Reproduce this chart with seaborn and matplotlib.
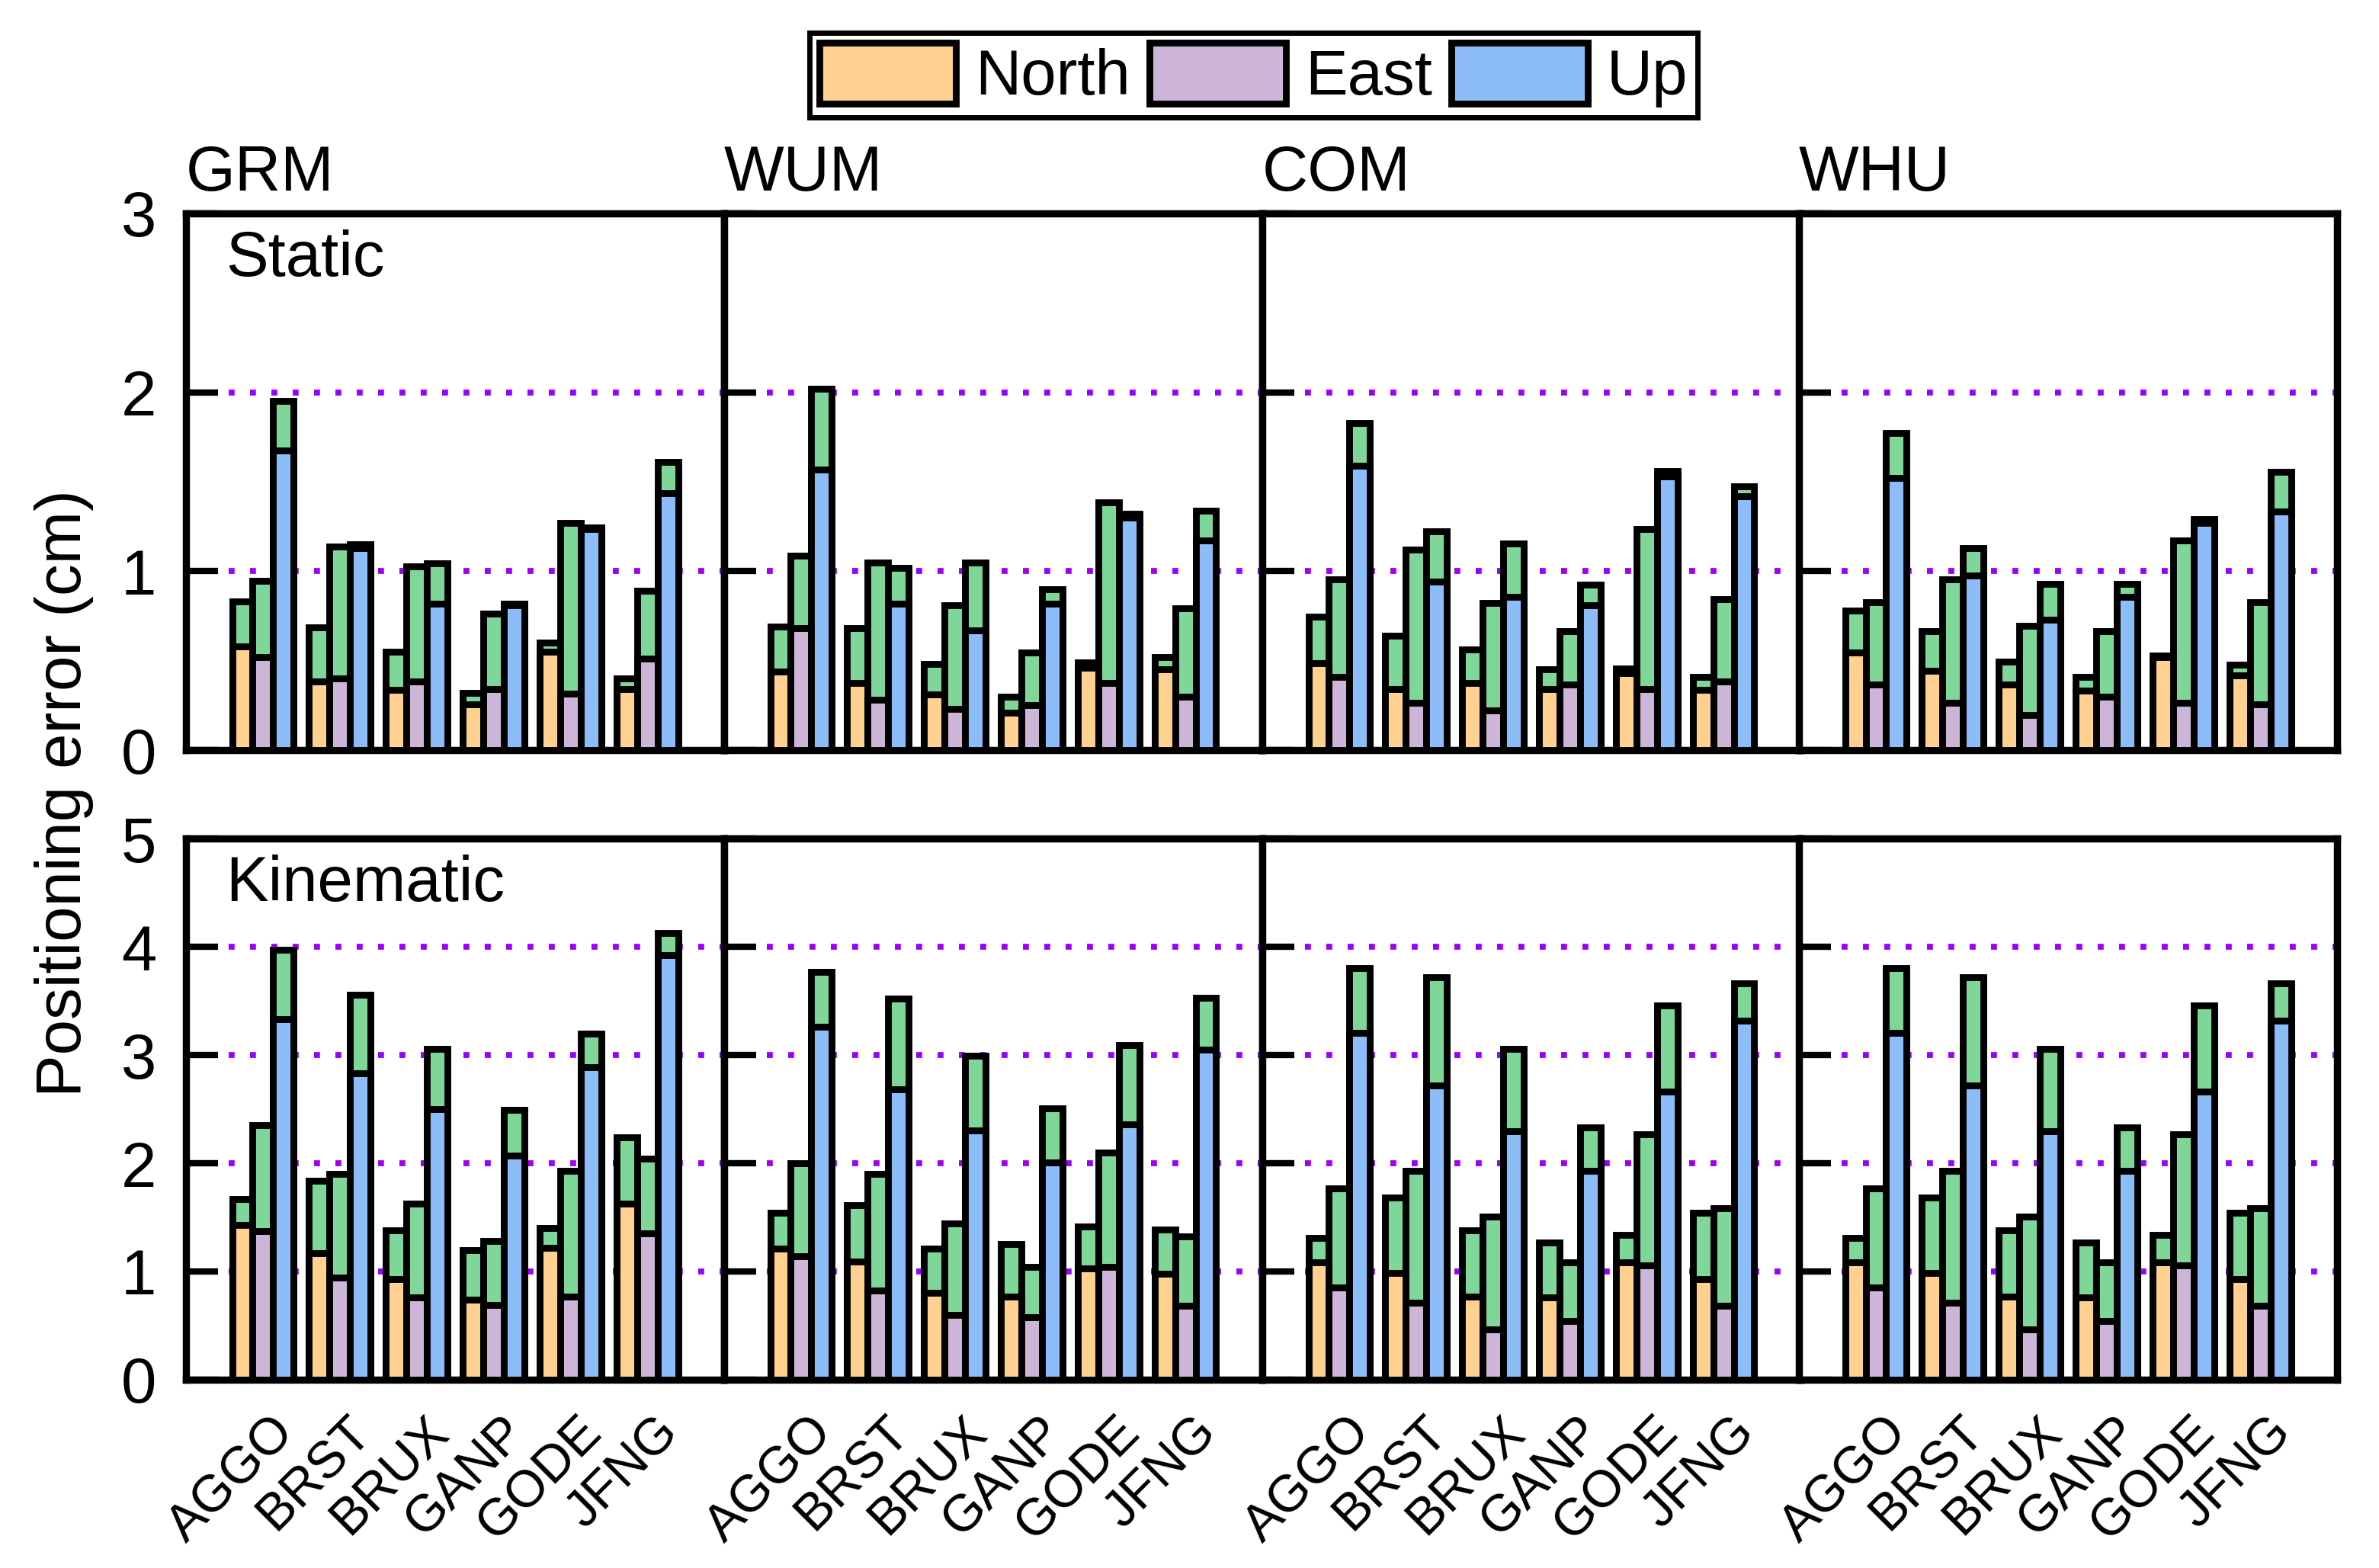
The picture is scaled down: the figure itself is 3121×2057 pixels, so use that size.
import numpy as np
import pandas as pd
import matplotlib
matplotlib.use("Agg")
import matplotlib.pyplot as plt
import matplotlib.transforms as mtransforms
from matplotlib.patches import Patch
import seaborn as sns

# Stations and error components
stations = ["AGGO", "BRST", "BRUX", "GANP", "GODE", "JFNG"]
components = ["North", "East", "Up"]
methods = ["GRM", "WUM", "COM", "WHU"]

# Lower (coloured) part of each bar, rows = North, East, Up (cm)
grm_static_lower = [[0.58, 0.385, 0.335, 0.257, 0.55, 0.343],
                    [0.52, 0.40, 0.385, 0.342, 0.315, 0.513],
                    [1.675, 1.13, 0.82, 0.81, 1.235, 1.437]]
grm_static_total = [[0.83, 0.686, 0.55, 0.318, 0.60, 0.40],
                    [0.945, 1.14, 1.026, 0.763, 1.27, 0.89],
                    [1.95, 1.15, 1.045, 0.82, 1.245, 1.61]]

wum_static_lower = [[0.44, 0.375, 0.31, 0.21, 0.46, 0.45],
                    [0.68, 0.28, 0.23, 0.25, 0.375, 0.30],
                    [1.57, 0.82, 0.67, 0.82, 1.30, 1.17]]
wum_static_total = [[0.69, 0.68, 0.48, 0.30, 0.49, 0.52],
                    [1.085, 1.05, 0.81, 0.546, 1.384, 0.794],
                    [2.02, 1.02, 1.05, 0.898, 1.32, 1.34]]

com_static_lower = [[0.486, 0.342, 0.375, 0.342, 0.43, 0.335],
                    [0.41, 0.264, 0.222, 0.368, 0.342, 0.382],
                    [1.59, 0.94, 0.855, 0.81, 1.53, 1.418]]
com_static_total = [[0.746, 0.64, 0.563, 0.453, 0.457, 0.41],
                    [0.955, 1.12, 0.821, 0.667, 1.237, 0.845],
                    [1.83, 1.223, 1.156, 0.924, 1.56, 1.473]]

whu_static_lower = [[0.546, 0.443, 0.368, 0.332, 0.52, 0.418],
                    [0.365, 0.264, 0.197, 0.30, 0.264, 0.258],
                    [1.52, 0.974, 0.727, 0.855, 1.27, 1.333]]
whu_static_total = [[0.778, 0.667, 0.496, 0.41, 0.53, 0.478],
                    [0.828, 0.955, 0.693, 0.667, 1.17, 0.828],
                    [1.772, 1.128, 0.931, 0.931, 1.29, 1.554]]

grm_kin_lower = [[1.43, 1.17, 0.93, 0.74, 1.22, 1.63],
                 [1.37, 0.94, 0.76, 0.69, 0.77, 1.35],
                 [3.33, 2.83, 2.50, 2.07, 2.89, 3.92]]
grm_kin_total = [[1.67, 1.84, 1.38, 1.20, 1.40, 2.24],
                 [2.35, 1.90, 1.63, 1.28, 1.93, 2.04],
                 [3.97, 3.56, 3.06, 2.49, 3.20, 4.13]]

wum_kin_lower = [[1.21, 1.09, 0.80, 0.77, 1.03, 0.98],
                 [1.14, 0.825, 0.60, 0.58, 1.04, 0.685],
                 [3.26, 2.68, 2.30, 2.01, 2.356, 3.047]]
wum_kin_total = [[1.54, 1.61, 1.21, 1.254, 1.414, 1.385],
                 [2.0, 1.90, 1.443, 1.044, 2.10, 1.327],
                 [3.77, 3.52, 2.99, 2.51, 3.09, 3.53]]

com_kin_lower = [[1.087, 0.985, 0.767, 0.758, 1.087, 0.927],
                 [0.854, 0.708, 0.466, 0.54, 1.055, 0.685],
                 [3.207, 2.717, 2.297, 1.93, 2.66, 3.32]]
com_kin_total = [[1.31, 1.685, 1.38, 1.27, 1.335, 1.54],
                 [1.77, 1.93, 1.51, 1.087, 2.27, 1.583],
                 [3.80, 3.717, 3.06, 2.33, 3.46, 3.66]]

whu_kin_lower = [[1.087, 0.985, 0.767, 0.758, 1.087, 0.927],
                 [0.854, 0.708, 0.466, 0.54, 1.055, 0.685],
                 [3.207, 2.717, 2.297, 1.93, 2.66, 3.32]]
whu_kin_total = [[1.31, 1.685, 1.38, 1.27, 1.335, 1.54],
                 [1.77, 1.93, 1.51, 1.087, 2.27, 1.583],
                 [3.80, 3.717, 3.06, 2.33, 3.46, 3.66]]

static_data = [(grm_static_lower, grm_static_total), (wum_static_lower, wum_static_total),
               (com_static_lower, com_static_total), (whu_static_lower, whu_static_total)]
kin_data = [(grm_kin_lower, grm_kin_total), (wum_kin_lower, wum_kin_total),
            (com_kin_lower, com_kin_total), (whu_kin_lower, whu_kin_total)]

comp_colors = ["#FFD08F", "#CDB5D8", "#8DBDF8"]
green = "#7ED699"
grid_color = "#9900FF"

sns.set_style("ticks")
plt.rcParams["font.family"] = ["Liberation Sans", "DejaVu Sans"]
plt.rcParams["text.color"] = "black"
plt.rcParams["xtick.color"] = "black"
plt.rcParams["ytick.color"] = "black"
plt.rcParams["axes.edgecolor"] = "black"
FS = 30
BAR_LW = 3.2


def to_frame(lower, total):
    rows = []
    for ci, comp in enumerate(components):
        for si, st in enumerate(stations):
            rows.append({"station": st, "component": comp,
                         "lower": lower[ci][si], "total": total[ci][si]})
    return pd.DataFrame(rows)


def draw_panel(fig, ax, lower, total, ymax, first_col, bottom_row):
    df = to_frame(lower, total)
    # green part = full bar, coloured part drawn on top of it
    sns.barplot(data=df, x="station", y="total", hue="component", hue_order=components,
                order=stations, palette=[green] * 3, saturation=1, edgecolor="k",
                linewidth=BAR_LW, errorbar=None, legend=False, ax=ax, zorder=2)
    sns.barplot(data=df, x="station", y="lower", hue="component", hue_order=components,
                order=stations, palette=comp_colors, saturation=1, edgecolor="k",
                linewidth=BAR_LW, errorbar=None, legend=False, ax=ax, zorder=3)
    for y in range(1, ymax):
        ax.axhline(y, color=grid_color, lw=2.8, ls=(0, (1, 2.6)),
                   dash_capstyle="butt", zorder=0.5)
    ax.set_xlim(-1, 6)
    ax.set_ylim(0, ymax)
    ax.set_yticks(range(0, ymax + 1))
    ax.set_xlabel("")
    ax.set_ylabel("")
    for s in ax.spines.values():
        s.set_visible(True)
        s.set_linewidth(3.4)
        s.set_color("k")
    ax.tick_params(axis="y", direction="in", length=15, width=3, labelsize=FS, pad=14,
                   left=True, right=False, labelleft=first_col)
    ax.tick_params(axis="x", direction="in", length=9, width=3, labelsize=24.5, pad=13,
                   bottom=True, top=False, labelbottom=bottom_row)
    if bottom_row:
        shift = mtransforms.ScaledTranslation(3 / 72, 0, fig.dpi_scale_trans)
        for lab in ax.get_xticklabels():
            lab.set_rotation(45)
            lab.set_ha("right")
            lab.set_rotation_mode("anchor")
            lab.set_transform(lab.get_transform() + shift)
    ax.set_facecolor("white")


fig = plt.figure(figsize=(15.605, 10.285), dpi=200)
lefts = [0.0782, 0.3044, 0.5306, 0.7562]
w = 0.2262

for i, m in enumerate(methods):
    ax1 = fig.add_axes([lefts[i], 0.5216, w, 0.3423])
    draw_panel(fig, ax1, static_data[i][0], static_data[i][1], 3, i == 0, False)
    ax1.text(0, 1.043, m, transform=ax1.transAxes, ha="left", va="baseline", fontsize=FS)
    ax2 = fig.add_axes([lefts[i], 0.1201, w, 0.3451])
    draw_panel(fig, ax2, kin_data[i][0], kin_data[i][1], 5, i == 0, True)
    if i == 0:
        ax1.text(0.074, 0.915, "Static", transform=ax1.transAxes, ha="left",
                 va="center", fontsize=FS)
        ax2.text(0.074, 0.915, "Kinematic", transform=ax2.transAxes, ha="left",
                 va="center", fontsize=FS)

fig.text(0.027, 0.494, "Positioning error (cm)", rotation=90, ha="center", va="center",
         fontsize=FS)

handles = [Patch(facecolor=c, edgecolor="k", linewidth=3.2) for c in comp_colors]
leg = fig.legend(handles, components, loc="upper center", bbox_to_anchor=(0.527, 0.979),
                 ncol=3, frameon=True, fancybox=False, edgecolor="k", fontsize=30,
                 handlelength=2.15, handleheight=1.1, handletextpad=0.3,
                 columnspacing=0.3, borderpad=0.15, borderaxespad=0)
leg.get_frame().set_linewidth(2.5)
leg.get_frame().set_alpha(1)

fig.savefig("out.png", dpi=200, facecolor="white")
